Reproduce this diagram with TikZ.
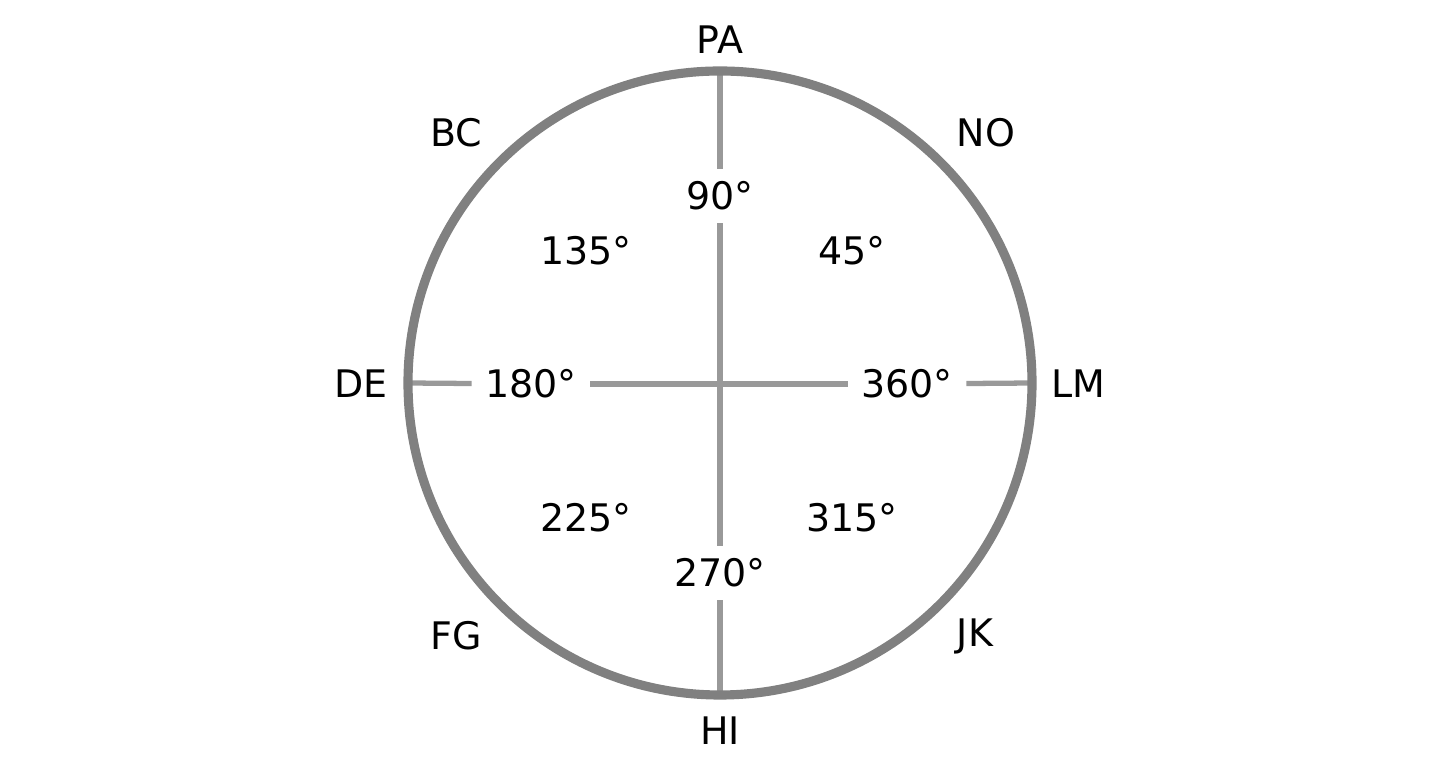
\documentclass[tikz,border=0pt]{standalone}
\usepackage{fontspec}
\setmainfont{DejaVu Sans}
\definecolor{ringgray}{RGB}{128, 128, 128}
\definecolor{axisgray}{RGB}{153, 153, 153}

\begin{document}
\begin{tikzpicture}[x=0.1mm, y=0.1mm,
    lbl/.style={inner sep=0pt, font=\fontsize{10.8pt}{13pt}\selectfont},
    deg/.style={lbl, inner xsep=1.3mm, inner ysep=1.2mm},
    axis/.style={axisgray, line width=1.5pt}]
                    \useasboundingbox (-720,-385) rectangle (720,383);

                    % Points on the ring
                    \coordinate (top) at (90:312);
                    \coordinate (bottom) at (270:312);
                    \coordinate (left) at (180:312);
                    \coordinate (right) at (0:312);

                    % Angle labels
                    \node[deg] (d90) at (0, 187) {90°};
                    \node[deg] (d270) at (0, -190) {270°};
                    \node[deg] (d180) at (-189, -1) {180°};
                    \node[deg] (d360) at (187, -1) {360°};
                    \node[lbl] (d135) at (-134, 132) {135°};
                    \node[lbl] (d45) at (132, 132) {45°};
                    \node[lbl] (d225) at (-134, -135) {225°};
                    \node[lbl] (d315) at (132, -135) {315°};

                    % Axes, broken at the labels
                    \draw[axis] (top) -- (d90);
                    \draw[axis] (d90) -- (d270);
                    \draw[axis] (d270) -- (bottom);
                    \draw[axis] (left) -- (d180);
                    \draw[axis] (d180) -- (d360);
                    \draw[axis] (d360) -- (right);

                    % Ring
                    \draw[ringgray, line width=2.6pt] (0,0) circle (312);

                    % Outer labels
                    \node[lbl] (pa) at (0, 343) {PA};
                    \node[lbl] (hi) at (0, -348) {HI};
                    \node[lbl] (de) at (-359, -1) {DE};
                    \node[lbl] (lm) at (358, -1) {LM};
                    \node[lbl] (bc) at (-264, 250) {BC};
                    \node[lbl] (no) at (266, 250) {NO};
                    \node[lbl] (fg) at (-264, -253) {FG};
                    \node[lbl] (jk) at (255, -253) {JK};
                \end{tikzpicture}
\end{document}
